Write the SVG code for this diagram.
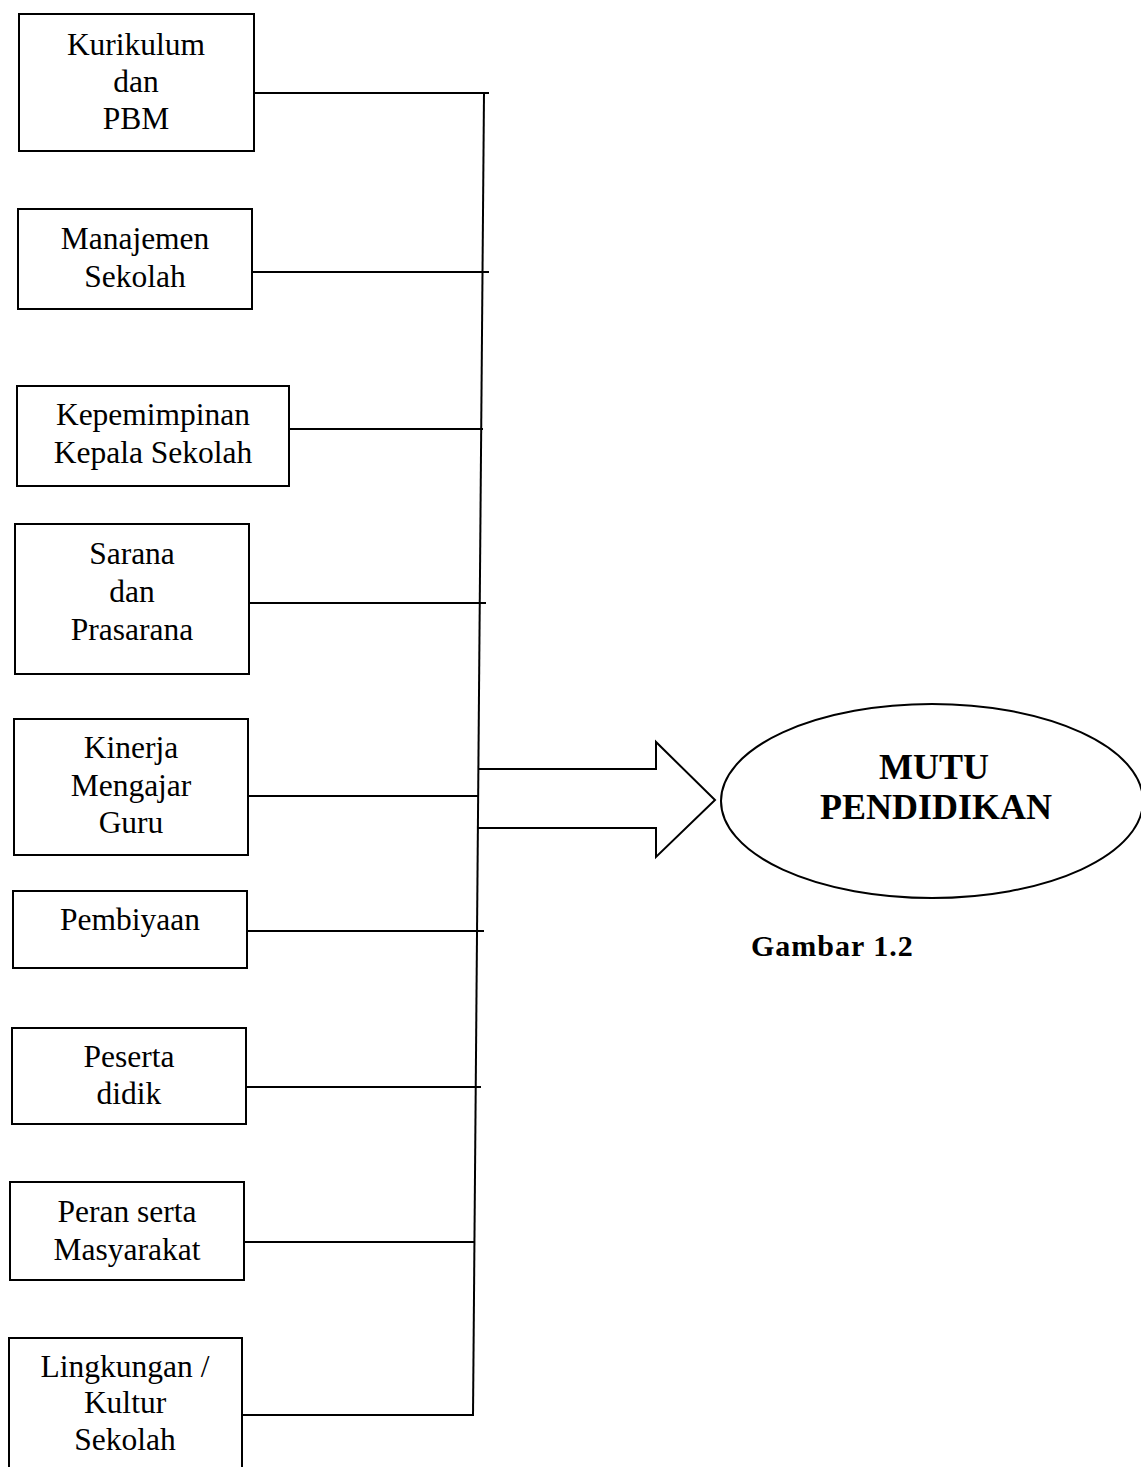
<svg xmlns="http://www.w3.org/2000/svg" width="1141" height="1467" viewBox="0 0 1141 1467">
<style>
.box{fill:none;stroke:#000;stroke-width:2}
.ln{fill:none;stroke:#000;stroke-width:2}
.t{font-family:"Liberation Serif","Times New Roman",serif;font-size:31.5px;fill:#000;text-anchor:middle}
.b{font-family:"Liberation Serif","Times New Roman",serif;font-weight:bold;font-size:36px;fill:#000;text-anchor:middle}
.cap{font-family:"Liberation Serif","Times New Roman",serif;font-weight:bold;font-size:30px;letter-spacing:1px;fill:#000}
</style>
<rect width="1141" height="1467" fill="#fff"/>
<g id="connectors">
<line class="ln" x1="484" y1="93" x2="473" y2="1416"/>
<line class="ln" x1="254" y1="93" x2="489" y2="93"/>
<line class="ln" x1="252" y1="272" x2="489" y2="272"/>
<line class="ln" x1="289" y1="429" x2="483" y2="429"/>
<line class="ln" x1="249" y1="603" x2="486" y2="603"/>
<line class="ln" x1="248" y1="796" x2="479" y2="796"/>
<line class="ln" x1="247" y1="931" x2="484" y2="931"/>
<line class="ln" x1="246" y1="1087" x2="481" y2="1087"/>
<line class="ln" x1="244" y1="1242" x2="474" y2="1242"/>
<line class="ln" x1="242" y1="1415" x2="473" y2="1415"/>
<polyline class="ln" points="478,769 656,769 656,742 715,800 656,857 656,828 478,828"/>
</g>
<g id="kurikulum">
<rect class="box" x="19" y="14" width="235" height="137"/>
<text class="t" x="136" y="55">Kurikulum</text>
<text class="t" x="136" y="92">dan</text>
<text class="t" x="136" y="129">PBM</text>
</g>
<g id="manajemen">
<rect class="box" x="18" y="209" width="234" height="100"/>
<text class="t" x="135" y="249">Manajemen</text>
<text class="t" x="135" y="287">Sekolah</text>
</g>
<g id="kepemimpinan">
<rect class="box" x="17" y="386" width="272" height="100"/>
<text class="t" x="153" y="425">Kepemimpinan</text>
<text class="t" x="153" y="463">Kepala Sekolah</text>
</g>
<g id="sarana">
<rect class="box" x="15" y="524" width="234" height="150"/>
<text class="t" x="132" y="564">Sarana</text>
<text class="t" x="132" y="602">dan</text>
<text class="t" x="132" y="640">Prasarana</text>
</g>
<g id="kinerja">
<rect class="box" x="14" y="719" width="234" height="136"/>
<text class="t" x="131" y="758">Kinerja</text>
<text class="t" x="131" y="796">Mengajar</text>
<text class="t" x="131" y="833">Guru</text>
</g>
<g id="pembiyaan">
<rect class="box" x="13" y="891" width="234" height="77"/>
<text class="t" x="130" y="930">Pembiyaan</text>
</g>
<g id="peserta">
<rect class="box" x="12" y="1028" width="234" height="96"/>
<text class="t" x="129" y="1067">Peserta</text>
<text class="t" x="129" y="1104">didik</text>
</g>
<g id="peran">
<rect class="box" x="10" y="1182" width="234" height="98"/>
<text class="t" x="127" y="1222">Peran serta</text>
<text class="t" x="127" y="1260">Masyarakat</text>
</g>
<g id="lingkungan">
<rect class="box" x="9" y="1338" width="233" height="140"/>
<text class="t" x="125" y="1377">Lingkungan /</text>
<text class="t" x="125" y="1413">Kultur</text>
<text class="t" x="125" y="1450">Sekolah</text>
</g>
<g id="mutu">
<ellipse class="box" cx="932" cy="801" rx="211" ry="97"/>
<text class="b" x="934" y="779">MUTU</text>
<text class="b" x="936" y="819">PENDIDIKAN</text>
</g>
<g id="caption">
<text class="cap" x="751" y="956">Gambar 1.2</text>
</g>
</svg>
